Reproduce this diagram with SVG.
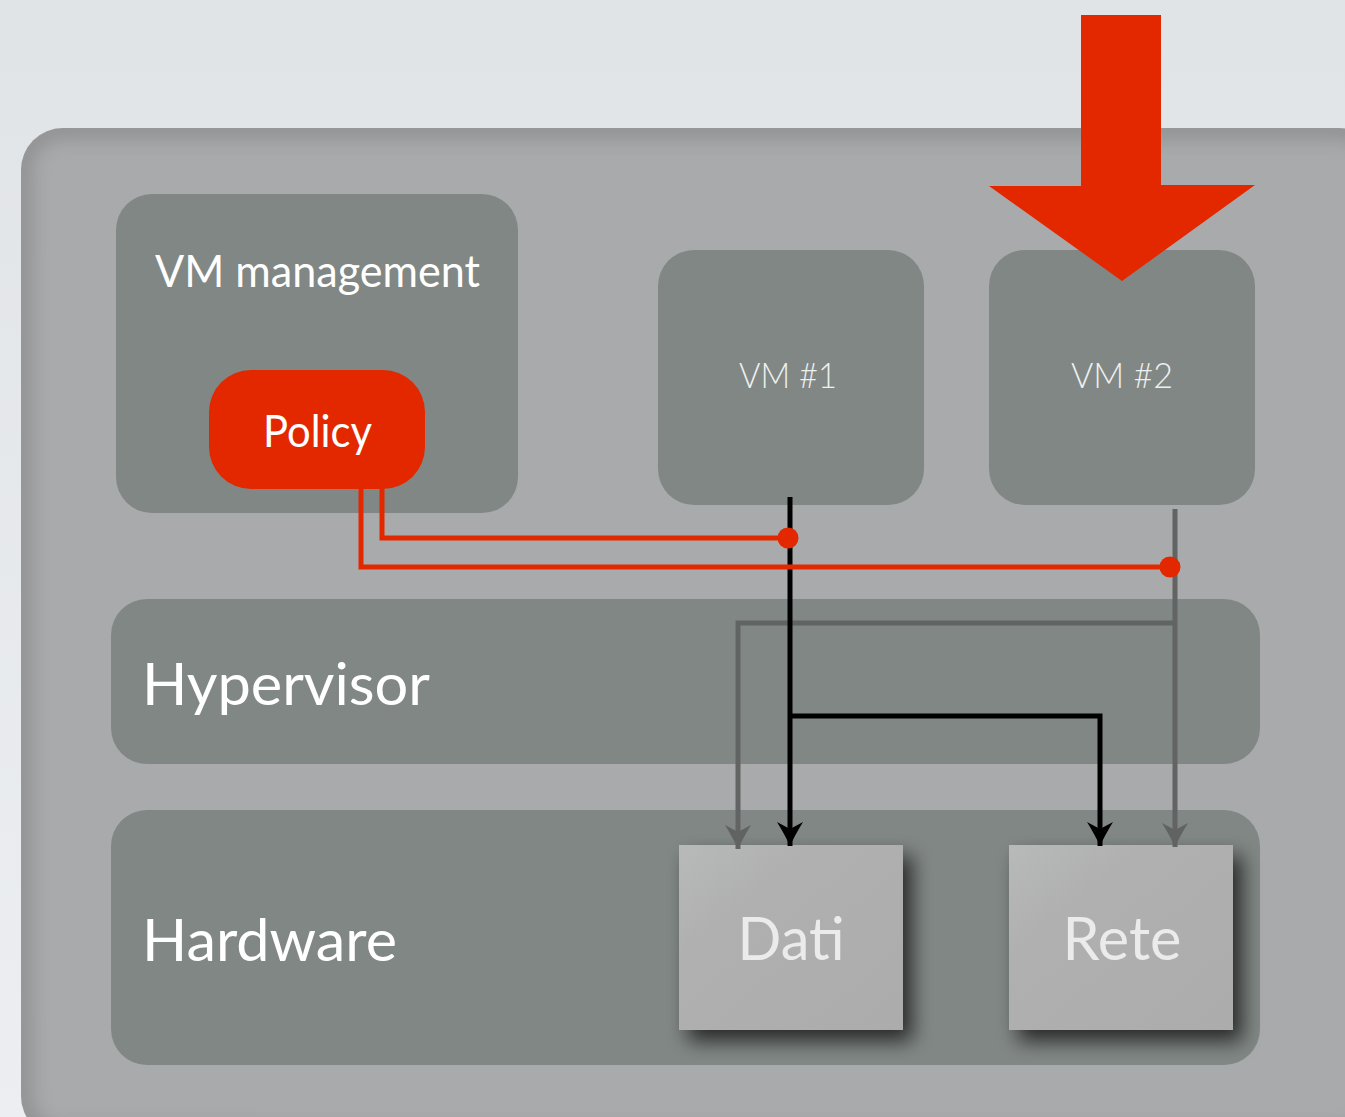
<svg xmlns="http://www.w3.org/2000/svg" width="1345" height="1117" viewBox="0 0 1345 1117">
  <defs>
    <linearGradient id="bg" x1="0" y1="0" x2="0" y2="1">
      <stop offset="0" stop-color="#e1e4e7"/>
      <stop offset="1" stop-color="#eceef1"/>
    </linearGradient>
    <linearGradient id="boxFill" x1="0" y1="0" x2="1" y2="1">
      <stop offset="0" stop-color="#b8b9b9"/>
      <stop offset="0.3" stop-color="#b0b0b0"/>
      <stop offset="1" stop-color="#acacac"/>
    </linearGradient>
    <clipPath id="panelClip">
      <rect x="21" y="128" width="1360" height="1010" rx="42"/>
    </clipPath>
    <filter id="soft" x="-10%" y="-10%" width="120%" height="120%">
      <feGaussianBlur stdDeviation="9"/>
    </filter>
    <filter id="drop" x="-20%" y="-20%" width="150%" height="150%">
      <feGaussianBlur in="SourceAlpha" stdDeviation="10"/>
      <feOffset dx="9" dy="11" result="b"/>
      <feComponentTransfer><feFuncA type="linear" slope="0.7"/></feComponentTransfer>
      <feMerge><feMergeNode/><feMergeNode in="SourceGraphic"/></feMerge>
    </filter>
    <marker id="headBlack" viewBox="-25 -14 26 28" refX="0" refY="0" markerWidth="26" markerHeight="28" markerUnits="userSpaceOnUse" orient="auto">
      <path d="M0,0 Q-11,-5 -24,-13 L-17,0 L-24,13 Q-11,5 0,0Z" fill="#000"/>
    </marker>
    <marker id="headGray" viewBox="-25 -14 26 28" refX="0" refY="0" markerWidth="26" markerHeight="28" markerUnits="userSpaceOnUse" orient="auto">
      <path d="M0,0 Q-11,-5 -24,-13 L-17,0 L-24,13 Q-11,5 0,0Z" fill="#616363"/>
    </marker>
    <style>
      .slab { fill: #818784; }
      .title { font-family: "Lato", "Open Sans", sans-serif; fill: #ffffff; }
      .vm { font-family: "Lato", "Open Sans", sans-serif; font-weight: 300; font-size: 35px; fill: #eef0ef; }
      .store { font-family: "Lato", "Open Sans", sans-serif; font-size: 60px; fill: #ebebeb; text-anchor: middle; }
      .red { fill: none; stroke: #e32800; stroke-width: 5; }
      .dot { fill: #e32800; }
      .blk { fill: none; stroke: #000; stroke-width: 5; }
      .gry { fill: none; stroke: #626464; stroke-width: 5; }
    </style>
  </defs>

  <!-- page background -->
  <rect width="1345" height="1117" fill="url(#bg)"/>

  <!-- outer host panel with soft inner edge -->
  <g id="host">
    <rect x="21" y="128" width="1360" height="1010" rx="42" fill="#a9aaab"/>
    <g clip-path="url(#panelClip)">
      <rect x="21" y="128" width="1360" height="1010" rx="42" fill="none" stroke="#7d7f81" stroke-width="22" filter="url(#soft)" opacity="0.55"/>
    </g>
  </g>

  <!-- VM management with Policy -->
  <g id="vm-management">
    <rect class="slab" x="116" y="194" width="402" height="319" rx="36"/>
    <text class="title" x="155" y="287" font-size="44" textLength="325" lengthAdjust="spacingAndGlyphs">VM management</text>
  </g>
  <g id="policy">
    <rect x="209" y="370" width="216" height="119" rx="42" fill="#e32800"/>
    <text class="title" x="263" y="447" font-size="44" textLength="109" lengthAdjust="spacingAndGlyphs">Policy</text>
  </g>

  <!-- virtual machines -->
  <g id="vm1">
    <rect class="slab" x="658" y="250" width="266" height="255" rx="36"/>
    <text class="vm" x="739" y="388" textLength="98" lengthAdjust="spacingAndGlyphs">VM #1</text>
  </g>
  <g id="vm2">
    <rect class="slab" x="989" y="250" width="266" height="255" rx="36"/>
    <text class="vm" x="1071" y="388" textLength="102" lengthAdjust="spacingAndGlyphs">VM #2</text>
  </g>

  <!-- layers -->
  <g id="hypervisor">
    <rect class="slab" x="111" y="599" width="1149" height="165" rx="36"/>
    <text class="title" x="142" y="705" font-size="58" textLength="288" lengthAdjust="spacingAndGlyphs">Hypervisor</text>
  </g>
  <g id="hardware">
    <rect class="slab" x="111" y="810" width="1149" height="255" rx="36"/>
    <text class="title" x="142" y="961" font-size="58" textLength="255" lengthAdjust="spacingAndGlyphs">Hardware</text>
  </g>

  <!-- devices -->
  <g id="dati">
    <rect x="679" y="845" width="224" height="185" fill="url(#boxFill)" filter="url(#drop)"/>
    <text class="store" x="791" y="960" textLength="107" lengthAdjust="spacingAndGlyphs">Dati</text>
  </g>
  <g id="rete">
    <rect x="1009" y="845" width="224" height="185" fill="url(#boxFill)" filter="url(#drop)"/>
    <text class="store" x="1122" y="960" textLength="119" lengthAdjust="spacingAndGlyphs">Rete</text>
  </g>

  <!-- connectors -->
  <g id="connectors">
    <!-- VM #2 path: to Rete and, via the hypervisor, to Dati -->
    <path class="gry" d="M1175,509 V847" marker-end="url(#headGray)"/>
    <path class="gry" d="M1175,623 H738 V849" stroke="#565858" marker-end="url(#headGray)"/>
    <!-- VM #1 path: to Dati and, via the hypervisor, to Rete -->
    <path class="blk" d="M790,497 V846" marker-end="url(#headBlack)"/>
    <path class="blk" d="M790,716 H1100 V846" marker-end="url(#headBlack)"/>
    <!-- policy control lines -->
    <path class="red" d="M382,489 V538 H788"/>
    <path class="red" d="M361,489 V567 H1170"/>
    <circle class="dot" cx="788" cy="538" r="10.5"/>
    <circle class="dot" cx="1170" cy="567" r="10.5"/>
  </g>

  <!-- big red arrow pointing at VM #2 -->
  <g id="focus-arrow">
    <polygon points="1081,15 1161,15 1161,185 1255,185 1122,281 989,186 1081,186" fill="#e32800"/>
  </g>
</svg>
